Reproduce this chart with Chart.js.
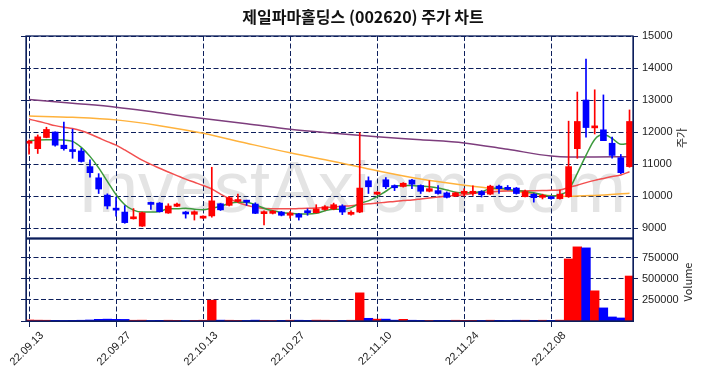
<!DOCTYPE html>
<html lang="ko">
<head>
<meta charset="UTF-8" />
<title>제일파마홀딩스 (002620) 주가 차트</title>
<script src="https://cdn.jsdelivr.net/npm/chart.js@4.4.1/dist/chart.umd.min.js"></script>
<style>
  html, body { margin: 0; padding: 0; background: #fff; }
  #wrap { position: relative; width: 704px; height: 378px; overflow: hidden; }
  #priceChart { position: absolute; left: 0; top: 0; }
  #volumeChart { position: absolute; left: 0; top: 238px; }
</style>
</head>
<body>
<div id="wrap">
  <canvas id="priceChart" width="704" height="239"></canvas>
  <canvas id="volumeChart" width="704" height="140"></canvas>
</div>
<script>
// daily candles, 22.09.13 .. 22.12.21 (70 trading days)
const openP  = [11650,11480,11830,12000,11590,11450,11410,10920,10570,10030, 9600, 9500, 9290, 9060, 9800, 9780, 9470, 9680, 9470, 9430,
                 9310, 9380, 9760, 9710, 9830, 9850, 9750, 9450, 9460, 9500, 9400, 9440, 9520, 9480, 9580, 9600, 9690, 9430, 9500,10480,
                10060,10510,10330,10300,10500,10330,10150,10170,10100,10000,10080,10080,10140,10060,10310,10250,10250, 9980,10060, 9960,
                 9980, 9920, 9980,11480,13000,12130,12070,11650,11200,10920];
const highP  = [11750,11910,12150,12010,12310,12090,11490,11130,10700,10070, 9970, 9700, 9610, 9500, 9810, 9800, 9760, 9780, 9520, 9540,
                 9380,10900, 9770, 9990,10060, 9870, 9790, 9540, 9550, 9520, 9520, 9460, 9600, 9730, 9700, 9780, 9730, 9540,11980,10600,
                10130,10580,10350,10420,10520,10350,10480,10330,10130,10120,10230,10320,10170,10340,10340,10330,10270,10190,10080,10060,
                10000,10185,12340,13250,14280,13320,13160,11840,11300,12690];
const lowP   = [11310,11330,11820,11560,11430,11180,11060,10590,10080, 9600, 9370, 9150, 9280, 9050, 9580, 9500, 9460, 9670, 9310, 9250,
                 9300, 9340, 9550, 9690, 9800, 9710, 9450, 9100, 9440, 9380, 9310, 9250, 9400, 9470, 9560, 9570, 9420, 9400, 9480,10080,
                10040,10230,10170,10280,10230,10080,10130,10060, 9940, 9980,10000,10020, 9970,10040,10080,10190,10060, 9970, 9810, 9910,
                 9900, 9900, 9960,11180,11840,11940,11730,11180,10700,10900];
const closeP = [11690,11850,12080,11590,11480,11390,11080,10730,10220, 9690, 9560, 9170, 9340, 9480, 9740, 9510, 9690, 9750, 9440, 9510,
                 9340, 9850, 9570, 9950, 9880, 9810, 9460, 9500, 9530, 9400, 9470, 9340, 9480, 9600, 9665, 9730, 9500, 9480,10250,10290,
                10100,10290,10260,10400,10370,10150,10230,10080, 9960,10100,10150,10150,10040,10310,10230,10210,10080,10140, 9950,10000,
                 9920,10060,10920,12330,12140,12180,11730,11270,10730,12330];
const volume = [12000,10000, 9000, 8000, 7000, 8000, 9000,12000,20000,22000,20000,19000, 9000,10000, 7000, 8000, 9000, 8000, 6000, 8000,
                 9000,246000,10000, 9000, 8000, 7000,10000, 8000, 7000, 8000, 9000, 9000, 8000,10000, 9000, 8000, 7000, 9000,333000,32000,
                22000,22000,10000,20000, 9000, 8000, 7000, 8000, 8000, 9000, 8000, 8000, 7000, 9000, 8000, 7000, 9000, 9000, 8000, 9000,
                 8000,10000,734000,877000,865000,357000,155000,48000,36000,532000];

// moving averages
const ma5  = [11730,11750,11760,11760,11750,11710,11520,11240,10880,10460,10040, 9730, 9560, 9500, 9500, 9520, 9600, 9600, 9620, 9590,
               9570, 9620, 9680, 9770, 9810, 9810, 9730, 9620, 9540, 9490, 9460, 9440, 9440, 9460, 9540, 9590, 9590, 9640, 9770, 9850,
               9980,10150,10310,10330,10330,10310,10290,10250,10190,10120,10100,10110,10140,10230,10250,10210,10170,10140,10100,10040,
              10000,10040,10190,10710,11270,11770,11920,11800,11620,11650];
const ma20 = [12400,12340,12270,12200,12150,12110,12040,11940,11820,11700,11590,11440,11280,11120,10990,10870,10750,10640,10530,10430,
              10330,10220,10060, 9920, 9800, 9710, 9650, 9610, 9600, 9600, 9600, 9610, 9620, 9625, 9640, 9660, 9680, 9700, 9730, 9760,
               9780, 9810, 9830, 9860, 9880, 9910, 9940, 9970,10000,10020,10040,10080,10110,10130,10150,10160,10160,10165,10165,10170,
              10180,10190,10270,10340,10420,10490,10550,10610,10660,10760];
const maLongIdx = [0, 5, 10, 15, 20, 25, 30, 35, 40, 45, 50, 55, 60, 62, 65, 69];
const ma60  = [12500,12460,12380,12200,11960,11650,11350,11080,10790,10530,10340,10180,10010, 9990,10020,10090];
const ma120 = [13020,12900,12775,12600,12420,12260,12085,11960,11850,11760,11660,11460,11250,11220,11220,11230];

const tickPos    = [0, 10, 20, 30, 40, 50, 60];
const tickLabels = ['22.09.13', '22.09.27', '22.10.13', '22.10.27', '22.11.10', '22.11.24', '22.12.08'];
const priceTicks  = [9000, 10000, 11000, 12000, 13000, 14000, 15000];
const volumeTicks = [250000, 500000, 750000];

const NAVY = '#0d1f5c';
const DASH = [5, 2.5];
const FONT = '"Liberation Sans", Arial, sans-serif';
const RED = '#ff0000';
const BLUE = '#0000ff';

const days = closeP.map((_, i) => i);
const candleColor = days.map(i => (closeP[i] >= openP[i] ? RED : BLUE));

function squeeze(w, h) {
	return (axis) => {
		if (w !== null) axis.width = w;
		if (h !== null) axis.height = h;
		axis.paddingLeft = 0;
		axis.paddingRight = 0;
		axis.paddingTop = 0;
		axis.paddingBottom = 0;
	};
}

const frame = {
	id: 'frame',
	afterDraw(chart) {
		const { ctx, chartArea: a } = chart;
		ctx.save();
		ctx.strokeStyle = NAVY;
		ctx.lineWidth = 1.3;
		ctx.strokeRect(a.left, a.top, a.right - a.left, a.bottom - a.top);
		ctx.restore();
	},
};

function sideTitle(text, x, y) {
	return {
		id: 'sideTitle',
		afterDraw(chart) {
			const ctx = chart.ctx;
			ctx.save();
			ctx.translate(x, y);
			ctx.rotate(-Math.PI / 2);
			ctx.fillStyle = '#222';
			ctx.font = '11px "Noto Sans CJK KR", ' + FONT;
			ctx.textAlign = 'center';
			ctx.textBaseline = 'middle';
			ctx.fillText(text, 0, 0);
			ctx.restore();
		},
	};
}

// chart heading, placed where the original sits (a bit right of centre)
const heading = {
	id: 'heading',
	afterDraw(chart) {
		const ctx = chart.ctx;
		ctx.save();
		ctx.fillStyle = '#111';
		ctx.font = 'bold 16px "Noto Sans CJK KR", sans-serif';
		ctx.textAlign = 'center';
		ctx.textBaseline = 'middle';
		ctx.fillText('제일파마홀딩스 (002620) 주가 차트', 363, 17);
		ctx.restore();
	},
};

const watermark = {
	id: 'watermark',
	beforeDraw(chart) {
		const ctx = chart.ctx;
		ctx.save();
		ctx.fillStyle = '#e4e4e4';
		ctx.font = '72px ' + FONT;
		ctx.textAlign = 'center';
		ctx.textBaseline = 'alphabetic';
		ctx.fillText('InvestAxiom.com', 352, 212);
		ctx.restore();
	},
};

const xRange = { type: 'linear', min: -0.35, max: 69.4, offset: false };

function maLine(label, points, color) {
	return {
		type: 'line',
		label,
		data: points,
		borderColor: color,
		borderWidth: 1.5,
		pointRadius: 0,
		cubicInterpolationMode: 'monotone',
		fill: false,
		order: 3,
		yAxisID: 'y',
	};
}

new Chart(document.getElementById('priceChart'), {
	type: 'bar',
	data: {
		datasets: [
			{
				label: 'body',
				data: days.map(i => ({ x: i, y: [openP[i], closeP[i]] })),
				backgroundColor: candleColor,
				barThickness: 6,
				minBarLength: 2,
				grouped: false,
				order: 0,
				yAxisID: 'y',
			},
			{
				label: 'wick',
				data: days.map(i => ({ x: i, y: [lowP[i], highP[i]] })),
				backgroundColor: candleColor,
				barThickness: 1,
				grouped: false,
				order: 1,
				yAxisID: 'y',
			},
			maLine('MA5', days.map(i => ({ x: i, y: ma5[i] })), '#3c9a3c'),
			maLine('MA20', days.map(i => ({ x: i, y: ma20[i] })), '#f24f4f'),
			maLine('MA60', maLongIdx.map((d, k) => ({ x: d, y: ma60[k] })), '#ffb23c'),
			maLine('MA120', maLongIdx.map((d, k) => ({ x: d, y: ma120[k] })), '#7d3d7d'),
		],
	},
	options: {
		responsive: false,
		animation: false,
		layout: { padding: { left: 0, right: 0, top: 36, bottom: 1 } },
		plugins: {
			legend: { display: false },
			tooltip: { enabled: false },
		},
		scales: {
			x: {
				...xRange,
				grid: { color: NAVY, drawTicks: false, offset: false },
				border: { display: true, color: NAVY, dash: DASH },
				ticks: { display: false },
				afterBuildTicks: (axis) => { axis.ticks = tickPos.map(v => ({ value: v })); },
				afterFit: squeeze(null, 0),
			},
			y: {
				position: 'right',
				min: 8690,
				max: 15000,
				grid: { color: NAVY, tickLength: 5, tickColor: NAVY },
				border: { display: true, color: NAVY, dash: DASH },
				ticks: { color: '#222', font: { family: FONT, size: 11 }, padding: 4, callback: (v) => String(v) },
				afterBuildTicks: (axis) => { axis.ticks = priceTicks.map(v => ({ value: v })); },
				afterFit: squeeze(71, null),
			},
			yl: {
				position: 'left',
				min: 8690,
				max: 15000,
				grid: { drawOnChartArea: false, tickLength: 5, tickColor: NAVY },
				border: { display: true, color: NAVY },
				ticks: { callback: () => '', padding: 0 },
				afterBuildTicks: (axis) => { axis.ticks = priceTicks.map(v => ({ value: v })); },
				afterFit: squeeze(26, null),
			},
		},
	},
	plugins: [watermark, frame, heading, sideTitle('주가', 682, 138)],
});

new Chart(document.getElementById('volumeChart'), {
	type: 'bar',
	data: {
		datasets: [
			{
				label: 'Volume',
				data: days.map(i => ({ x: i, y: volume[i] })),
				backgroundColor: candleColor,
				barPercentage: 1,
				categoryPercentage: 1,
				yAxisID: 'vy',
			},
		],
	},
	options: {
		responsive: false,
		animation: false,
		layout: { padding: { left: 0, right: 0, top: 1, bottom: 0 } },
		plugins: { legend: { display: false }, tooltip: { enabled: false } },
		scales: {
			x: {
				...xRange,
				grid: { color: NAVY, tickLength: 6, tickColor: NAVY, offset: false },
				border: { display: true, color: NAVY, dash: DASH },
				ticks: {
					color: '#222',
					font: { family: FONT, size: 11 },
					minRotation: 45,
					maxRotation: 45,
					autoSkip: false,
					padding: 2,
					labelOffset: 13,
					callback: (v) => tickLabels[tickPos.indexOf(v)] ?? '',
				},
				afterBuildTicks: (axis) => { axis.ticks = tickPos.map(v => ({ value: v })); },
				afterFit: squeeze(null, 57),
			},
			vy: {
				position: 'right',
				min: 0,
				max: 970000,
				grid: { color: NAVY, tickLength: 5, tickColor: NAVY },
				border: { display: true, color: NAVY, dash: DASH },
				ticks: { color: '#222', font: { family: FONT, size: 11 }, padding: 4, callback: (v) => String(v) },
				afterBuildTicks: (axis) => { axis.ticks = volumeTicks.map(v => ({ value: v })); },
				afterFit: squeeze(71, null),
			},
			vyl: {
				position: 'left',
				min: 0,
				max: 970000,
				grid: { drawOnChartArea: false, tickLength: 5, tickColor: NAVY },
				border: { display: true, color: NAVY },
				ticks: { callback: () => '', padding: 0 },
				afterBuildTicks: (axis) => { axis.ticks = [0, ...volumeTicks].map(v => ({ value: v })); },
				afterFit: squeeze(26, null),
			},
		},
	},
	plugins: [frame, sideTitle('Volume', 688, 44)],
});
</script>
</body>
</html>
